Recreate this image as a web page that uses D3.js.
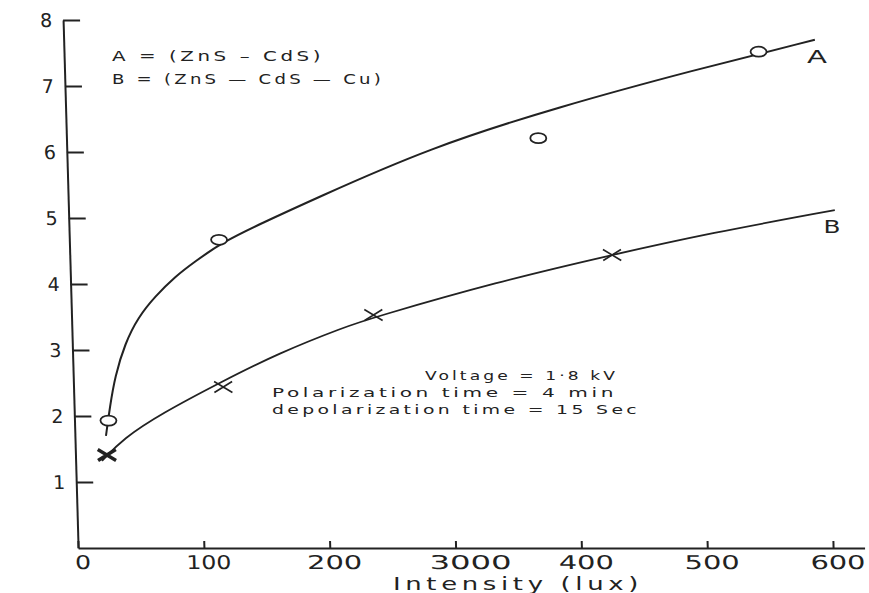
<!DOCTYPE html>
<html lang="en">
<head>
<meta charset="UTF-8">
<title>Intensity chart</title>
<style>
  body { margin: 0; background: #fff; }
  text { font-family: "DejaVu Sans", sans-serif; fill: #222; }
</style>
</head>
<body>
<script src="https://d3js.org/d3.v7.min.js"></script>
<script>
    // ---- data ----
    const xTicks = [0, 100, 200, 300, 400, 500, 600];
    const xTickLabels = ["0", "100", "200", "3000", "400", "500", "600"];
    const yTicks = [1, 2, 3, 4, 5, 6, 7, 8];

    // measured points, A = (ZnS-CdS) circles, B = (ZnS-CdS-Cu) crosses
    const aIntensity = [27, 119, 375, 552];
    const aValue = [1.93, 4.67, 6.21, 7.52];
    const bIntensity = [25, 119, 240, 431];
    const bValue = [1.41, 2.44, 3.53, 4.44];

    // hand drawn curves
    const curveAIntensity = [24.7, 28.5, 33.2, 41.9, 53.1, 66.8, 83.1, 99.3, 122.3, 153.2, 193.5, 289, 393, 500, 597];
    const curveAValue = [1.70, 2.14, 2.60, 3.10, 3.50, 3.81, 4.11, 4.34, 4.64, 4.92, 5.27, 6.07, 6.69, 7.24, 7.70];
    const curveBIntensity = [21, 38.4, 69.5, 117.9, 163.5, 217, 239.4, 338.7, 430.7, 509.3, 609];
    const curveBValue = [1.32, 1.66, 2.04, 2.52, 2.95, 3.35, 3.49, 4.03, 4.44, 4.77, 5.12];

    const width = 869, height = 593;
    const skew = 1.63; // the scanned y axis leans a little

    const svg = d3.select("body").append("svg")
        .attr("width", width)
        .attr("height", height);
    svg.append("rect").attr("width", width).attr("height", height).attr("fill", "#fff");

    const x = d3.scaleLinear().domain([0, 625]).range([62.5, 62.5 + 625 * 755 / 600]);
    const y = d3.scaleLinear().domain([0, 8]).range([548, 20]);

    const plot = svg.append("g").attr("transform", "skewX(" + skew + ")");

    // x axis
    const xAxis = plot.append("g")
        .attr("transform", "translate(0," + y(0) + ")")
        .call(d3.axisBottom(x)
            .tickValues(xTicks)
            .tickFormat((d, i) => xTickLabels[i])
            .tickSizeInner(-7)
            .tickSizeOuter(0)
            .tickPadding(7.5));
    xAxis.selectAll("text")
        .attr("font-family", "DejaVu Sans")
        .attr("font-size", 19)
        .attr("fill", "#222")
        .attr("dx", d => d == 300 ? 14 : 4)
        .attr("textLength", (d, i) => xTickLabels[i].length == 1 ? 16 : xTickLabels[i].length == 4 ? 82 : (d == 100 ? 45 : 55))
        .attr("lengthAdjust", "spacingAndGlyphs");

    // y axis
    const yAxis = plot.append("g")
        .attr("transform", "translate(" + x(0) + ",0)")
        .call(d3.axisLeft(y)
            .tickValues(yTicks)
            .tickFormat(d3.format("d"))
            .tickSizeInner(-17)
            .tickSizeOuter(0)
            .tickPadding(11));
    yAxis.selectAll("text")
        .attr("font-family", "DejaVu Sans")
        .attr("font-size", 19)
        .attr("fill", "#222");

    [xAxis, yAxis].forEach(g => {
        g.select(".domain").attr("stroke", "#222").attr("stroke-width", 2);
        g.selectAll(".tick line").attr("stroke", "#222").attr("stroke-width", 2);
    });

    // curves (smoothed like a french curve)
    const line = d3.line()
        .x(d => x(d[0]))
        .y(d => y(d[1]))
        .curve(d3.curveBasis);

    plot.append("path")
        .datum(d3.zip(curveAIntensity, curveAValue))
        .attr("fill", "none")
        .attr("stroke", "#222")
        .attr("stroke-width", 2)
        .attr("d", line);

    plot.append("path")
        .datum(d3.zip(curveBIntensity, curveBValue))
        .attr("fill", "none")
        .attr("stroke", "#222")
        .attr("stroke-width", 1.8)
        .attr("d", line);

    // circles for A
    plot.selectAll(".markA")
        .data(d3.zip(aIntensity, aValue))
        .enter()
        .append("ellipse")
        .attr("class", "markA")
        .attr("cx", d => x(d[0]))
        .attr("cy", d => y(d[1]))
        .attr("rx", 8)
        .attr("ry", 5)
        .attr("fill", "#fff")
        .attr("stroke", "#222")
        .attr("stroke-width", 1.8);

    // crosses for B
    plot.selectAll(".markB")
        .data(d3.zip(bIntensity, bValue))
        .enter()
        .append("path")
        .attr("class", "markB")
        .attr("transform", d => "translate(" + x(d[0]) + "," + y(d[1]) + ")")
        .attr("d", "M-9,-5.5L9,5.5M-9,5.5L9,-5.5")
        .attr("fill", "none")
        .attr("stroke", "#222")
        .attr("stroke-width", (d, i) => i == 0 ? 3.5 : 1.6);

    // stencil-like lettering: widen glyphs a bit and spread them out
    function label(px, py, size, len, str) {
        return svg.append("text")
            .attr("x", px).attr("y", py)
            .attr("font-size", size)
            .attr("letter-spacing", size * 0.18)
            .attr("textLength", len)
            .attr("lengthAdjust", "spacingAndGlyphs")
            .text(str);
    }

    // curve names
    svg.append("text").attr("x", 817).attr("y", 63).attr("text-anchor", "middle")
        .attr("font-size", 18).attr("textLength", 20).attr("lengthAdjust", "spacingAndGlyphs").text("A");
    svg.append("text").attr("x", 832).attr("y", 233).attr("text-anchor", "middle")
        .attr("font-size", 18).attr("textLength", 17).attr("lengthAdjust", "spacingAndGlyphs").text("B");

    // legend
    label(112, 61, 14, 212, "A = (ZnS – CdS)");
    label(112, 84, 14, 272, "B = (ZnS — CdS — Cu)");

    // conditions
    label(425, 380, 13, 193, "Voltage = 1·8 kV");
    label(272, 397, 13, 345, "Polarization time = 4 min");
    label(272, 414, 13, 368, "depolarization time = 15 Sec");

    // axis title
    label(393, 590, 18, 250, "Intensity (lux)");
</script>
</body>
</html>
